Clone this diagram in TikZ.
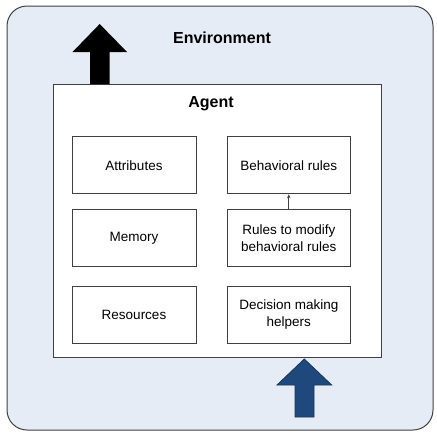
\documentclass[tikz,border=0pt]{standalone}
\usepackage{fontspec}
\setmainfont{Liberation Sans}
\usetikzlibrary{arrows.meta}
\definecolor{envfill}{HTML}{E6ECF6}
\definecolor{boxline}{HTML}{404040}
\definecolor{bluearrow}{HTML}{1F497D}
\definecolor{bluearrowline}{HTML}{16365C}
\tikzset{
  compbox/.style={draw=boxline, line width=0.9pt, fill=white, minimum width=124pt, minimum height=57pt, inner sep=0pt, align=center, font=\fontsize{13.5pt}{17pt}\selectfont},
  titletext/.style={font=\fontsize{16pt}{19pt}\selectfont\bfseries, inner sep=0pt}
}
\begin{document}
\begin{tikzpicture}[x=1pt,y=-1pt]
\useasboundingbox (0,0) rectangle (437,437);
% environment
\draw[draw=boxline, line width=1pt, fill=envfill, rounded corners=20pt] (7,6) rectangle (433,430);
\node[titletext] (env) at (222,37.5) {Environment};
% agent
\node[draw=boxline, line width=1pt, fill=white, minimum width=328pt, minimum height=273pt, inner sep=0pt] (agent) at (217,220.5) {};
\node[titletext] (agentlabel) at (211,103.5) {Agent};
% output arrow (black)
\fill[black] (90,84) -- (90,52) -- (72.5,52) -- (99.7,24) -- (127,52) -- (109.5,52) -- (109.5,84) -- cycle;
% input arrow (blue)
\draw[draw=bluearrowline, line width=0.8pt, fill=bluearrow] (295,417) -- (295,385) -- (277,385) -- (304.3,359) -- (331.7,385) -- (314,385) -- (314,417) -- cycle;
% components
\node[compbox] (attr) at (134,165.3) {Attributes};
\node[compbox] (mem) at (134,238) {Memory};
\node[compbox] (res) at (134,315) {Resources};
\node[compbox, minimum width=123pt] (beh) at (288.8,165.3) {Behavioral rules};
\node[compbox, minimum width=123pt] (mod) at (288.8,238) {Rules to modify\\behavioral rules};
\node[compbox, minimum width=123pt] (dec) at (288.8,315) {Decision making\\helpers};
\draw[-{Stealth[length=4pt,width=3.5pt]}, draw=boxline, line width=0.8pt] (mod.north) -- (beh.south);
\end{tikzpicture}
\end{document}
